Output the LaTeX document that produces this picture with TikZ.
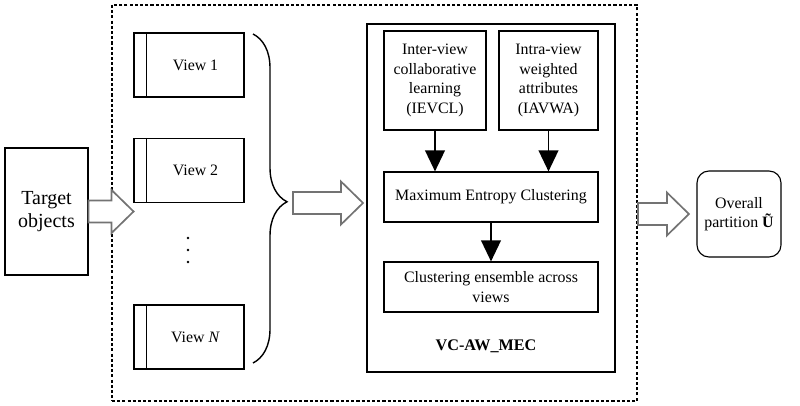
\documentclass[tikz,border=0pt]{standalone}
\usepackage{fontspec}
\setmainfont{Liberation Serif}
\usetikzlibrary{positioning, arrows.meta, calc, decorations.pathreplacing}

\tikzset{
  box/.style={draw, line width=0.8pt, align=center, inner sep=2pt,
    font=\fontsize{11.3}{13.9}\selectfont},
  viewbox/.style={box, minimum width=2.75cm, minimum height=1.6cm},
  hollowline/.style={draw=black!55, fill=white, line width=1.2pt, line join=miter},
  down/.style={line width=1.4pt, -{Triangle[length=15pt, width=14pt]}},
  pics/hollow/.style={code={
    \draw[hollowline] (0,-11) -- (#1-22,-11) -- (#1-22,-21.5) -- (#1,0)
      -- (#1-22,21.5) -- (#1-22,11) -- (0,11) -- cycle;}}
}

\begin{document}
\begin{tikzpicture}[x=0.025cm, y=-0.025cm]
  \useasboundingbox (0,0) rectangle (800,406);

  % outer dashed frame
  \node[draw, line width=1.2pt, dash pattern=on 2.2pt off 1.5pt,
    minimum width=13.125cm, minimum height=9.9cm] (frame) at (374.5,203) {};

  \node[box, minimum width=2.075cm, minimum height=3.175cm,
    font=\fontsize{14.2}{16}\selectfont] (tgt) at (46.5,211.5) {Target\\objects};

  % views
  \node[viewbox] (v1) at (189,65) {\hspace{0.325cm}View 1};
  \node[viewbox] (v2) at (189,170.5) {\hspace{0.325cm}View 2};
  \node[viewbox] (vn) at (189,337) {\hspace{0.325cm}View \textit{N}};
  \foreach \v in {v1,v2,vn}
    \draw[line width=0.8pt] ($(\v.north west)+(13,0)$) -- ($(\v.south west)+(13,0)$);
  \foreach \y in {238,250,262}
    \fill (188,\y) circle (1pt);

  \draw[line width=1pt, decorate,
    decoration={brace, amplitude=0.85cm, aspect=0.51}] (253,34) -- (253,363);

  % VC-AW_MEC block
  \node[box, minimum width=6.2cm, minimum height=8.7cm] (vc) at (491,198) {};
  \node[box, minimum width=2.55cm, minimum height=2.475cm] (ievcl) at (435,80.5)
    {Inter-view\\collaborative\\learning\\(IEVCL)};
  \node[box, minimum width=2.475cm, minimum height=2.475cm] (iavwa) at (548.5,80.5)
    {Intra-view\\weighted\\attributes\\(IAVWA)};
  \node[box, minimum width=5.35cm, minimum height=1.25cm] (mec) at (491,197)
    {Maximum Entropy Clustering};
  \node[box, minimum width=5.35cm, minimum height=1.25cm] (ens) at (491,287)
    {Clustering ensemble across\\views};
  \node[font=\fontsize{11.5}{13.9}\selectfont\bfseries] (vcname) at (486,346) {VC-AW\_MEC};

  \draw[down] (ievcl.south) -- (ievcl.south |- mec.north);
  \draw[down] (iavwa.south) -- (iavwa.south |- mec.north);
  \draw[down] (mec.south) -- (ens.north);

  \node[box, rounded corners=0.3cm, minimum width=2.1cm, minimum height=2.15cm]
    (part) at (739,214) {Overall\\partition \textbf{Ũ}};

  % hollow arrows
  \coordinate (arrin) at (293,203);
  \pic at (tgt.east) {hollow=45};
  \pic at (arrin) {hollow=70};
  \pic at (frame.east |- part.west) {hollow=51};
\end{tikzpicture}
\end{document}
